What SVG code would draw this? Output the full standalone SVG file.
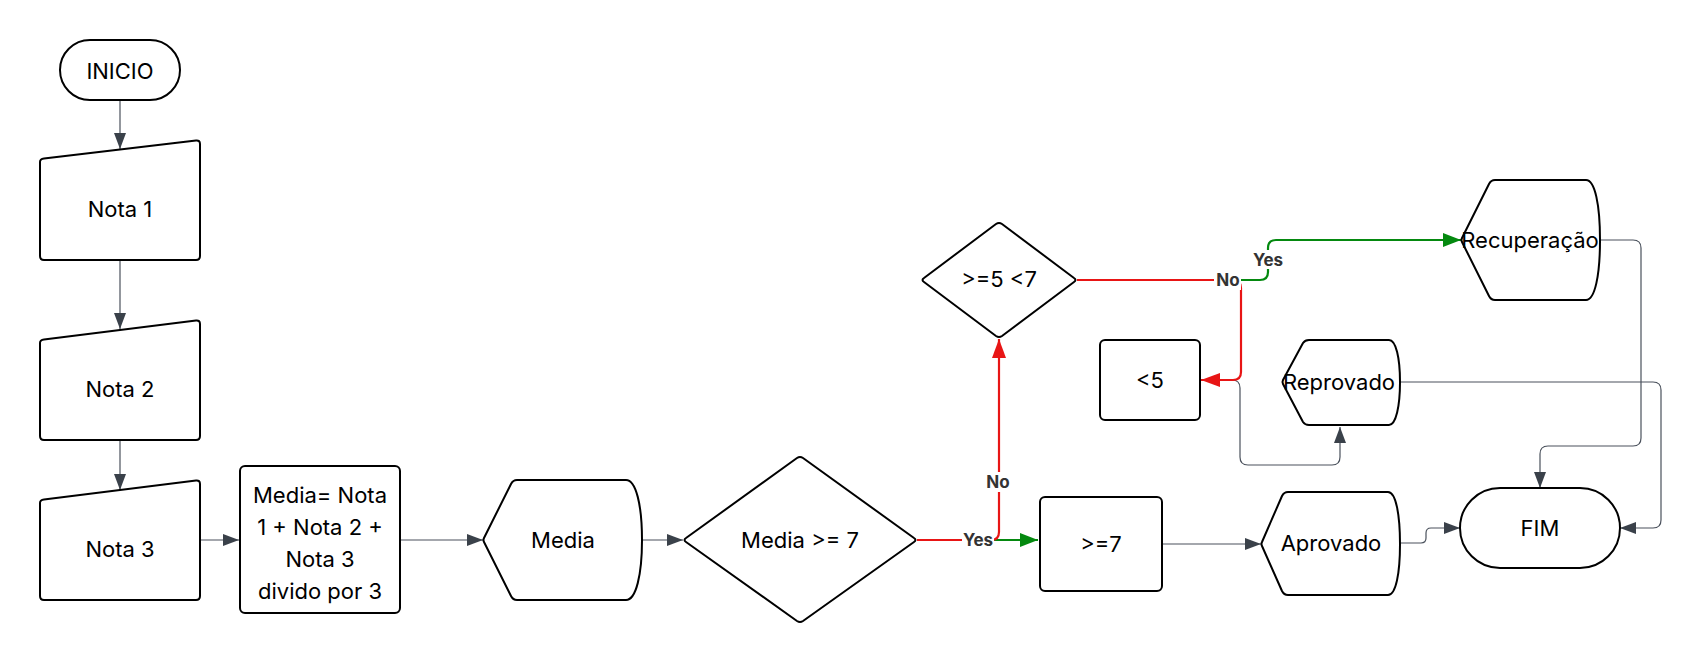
<svg xmlns="http://www.w3.org/2000/svg" width="1701" height="665" viewBox="0 0 1701 665">
<style>
.n{fill:#fff;stroke:#000;stroke-width:2;stroke-linejoin:round}
.t{font-family:Inter,"Liberation Sans",sans-serif;font-size:22px;fill:#000;text-anchor:middle}
.c{fill:none;stroke:#4a515c;stroke-width:1.2}
.r{fill:none;stroke:#e81515;stroke-width:2.2}
.g{fill:none;stroke:#04890f;stroke-width:2.2}
.l{font-family:Inter,"Liberation Sans",sans-serif;font-size:17px;font-weight:bold;fill:#333;text-anchor:middle}
</style>
<defs>
<marker id="ag" markerUnits="userSpaceOnUse" markerWidth="16" markerHeight="12" refX="16" refY="6" orient="auto"><path d="M0,0L16,6L0,12z" fill="#3a414a"/></marker>
<marker id="ar" markerUnits="userSpaceOnUse" markerWidth="19" markerHeight="14" refX="19" refY="7" orient="auto"><path d="M0,0L19,7L0,14z" fill="#e81515"/></marker>
<marker id="agr" markerUnits="userSpaceOnUse" markerWidth="18" markerHeight="14" refX="18" refY="7" orient="auto"><path d="M0,0L18,7L0,14z" fill="#04890f"/></marker>
</defs>
<g id="connectors">
<path class="c" d="M120,100V149" marker-end="url(#ag)"/>
<path class="c" d="M120,260V329" marker-end="url(#ag)"/>
<path class="c" d="M120,440V490" marker-end="url(#ag)"/>
<path class="c" d="M200,540H239" marker-end="url(#ag)"/>
<path class="c" d="M400,540H483" marker-end="url(#ag)"/>
<path class="c" d="M642,540H683" marker-end="url(#ag)"/>
<path class="g" d="M917,540H1038" marker-end="url(#agr)"/>
<path class="r" d="M917,540H991Q999,540 999,532V339" marker-end="url(#ar)"/>
<path class="c" d="M1162,544H1261" marker-end="url(#ag)"/>
<path class="g" d="M1077,280H1260Q1268,280 1268,272V248Q1268,240 1276,240H1461" marker-end="url(#agr)"/>
<path class="c" d="M1200,380H1232Q1240,380 1240,388V457Q1240,465 1248,465H1332Q1340,465 1340,457V427" marker-end="url(#ag)"/>
<path class="r" d="M1077,280H1233Q1241,280 1241,288V372Q1241,380 1233,380H1201" marker-end="url(#ar)"/>
<path class="c" d="M1600,240H1633Q1641,240 1641,248V438Q1641,446 1633,446H1548Q1540,446 1540,454V488" marker-end="url(#ag)"/>
<path class="c" d="M1400,382H1653Q1661,382 1661,390V520Q1661,528 1653,528H1620" marker-end="url(#ag)"/>
<path class="c" d="M1400,543H1421Q1426,543 1426,538V533Q1426,528 1431,528H1460" marker-end="url(#ag)"/>
<rect x="962" y="530" width="32" height="20" fill="#fff"/>
<text class="l" x="978" y="546">Yes</text>
<rect x="985" y="472" width="26" height="20" fill="#fff"/>
<text class="l" x="998" y="488">No</text>
<rect x="1214" y="270" width="27" height="20" fill="#fff"/>
<text class="l" x="1228" y="286">No</text>
<rect x="1253" y="250" width="31" height="19" fill="#fff"/>
<text class="l" x="1268" y="266">Yes</text>
</g>
<g id="inicio"><rect class="n" x="60" y="40" width="120" height="60" rx="30"/><text class="t" x="120" y="79">INICIO</text></g>
<g id="nota1"><path class="n" d="M44,158.5L196,140.5Q200,140 200,144V256Q200,260 196,260H44Q40,260 40,256V162Q40,159 44,158.5Z"/><text class="t" x="120" y="217">Nota 1</text></g>
<g id="nota2"><path class="n" d="M44,339.5L196,320.5Q200,320 200,324V436Q200,440 196,440H44Q40,440 40,436V343Q40,340 44,339.5Z"/><text class="t" x="120" y="397">Nota 2</text></g>
<g id="nota3"><path class="n" d="M44,499.5L196,480.5Q200,480 200,484V596Q200,600 196,600H44Q40,600 40,596V503Q40,500 44,499.5Z"/><text class="t" x="120" y="557">Nota 3</text></g>
<g id="calc"><rect class="n" x="240" y="466" width="160" height="147" rx="5"/><text class="t" x="320" y="503">Media= Nota</text><text class="t" x="320" y="535">1 + Nota 2 +</text><text class="t" x="320" y="567">Nota 3</text><text class="t" x="320" y="599">divido por 3</text></g>
<g id="media"><path class="n" d="M484,542Q483,540 484,538L511,484Q513,480 517,480H626C636,480 642,505 642,540C642,575 636,600 626,600H517Q513,600 511,596Z"/><text class="t" x="563" y="548">Media</text></g>
<g id="dec1"><path class="n" d="M686,542Q683,540 686,538L797,458Q800,456 803,458L914,538Q917,540 914,542L803,621Q800,623 797,621Z"/><text class="t" x="800" y="548">Media &gt;= 7</text></g>
<g id="dec2"><path class="n" d="M924,282Q921,280 924,278L996,224Q999,222 1002,224L1074,278Q1077,280 1074,282L1002,336Q999,338 996,336Z"/><text class="t" x="999" y="287">&gt;=5 &lt;7</text></g>
<g id="lt5"><rect class="n" x="1100" y="340" width="100" height="80" rx="5"/><text class="t" x="1150" y="388">&lt;5</text></g>
<g id="ge7"><rect class="n" x="1040" y="497" width="122" height="94" rx="5"/><text class="t" x="1101" y="552">&gt;=7</text></g>
<g id="recuperacao"><path class="n" d="M1462,242Q1461,240 1462,238L1489,184Q1491,180 1495,180H1586C1595,180 1600,205 1600,240C1600,275 1595,300 1586,300H1495Q1491,300 1489,296Z"/><text class="t" x="1530" y="248">Recuperação</text></g>
<g id="reprovado"><path class="n" d="M1283,384Q1282,382 1283,380L1303,343Q1305,340 1309,340H1389C1396,340 1400,358 1400,382C1400,406 1396,425 1389,425H1309Q1305,425 1303,422Z"/><text class="t" x="1339" y="390">Reprovado</text></g>
<g id="aprovado"><path class="n" d="M1262,546Q1261,544 1262,542L1282,496Q1284,492 1288,492H1388C1396,492 1400,515 1400,544C1400,573 1396,595 1388,595H1288Q1284,595 1282,591Z"/><text class="t" x="1331" y="551">Aprovado</text></g>
<g id="fim"><rect class="n" x="1460" y="488" width="160" height="80" rx="40"/><text class="t" x="1540" y="536">FIM</text></g>
</svg>
